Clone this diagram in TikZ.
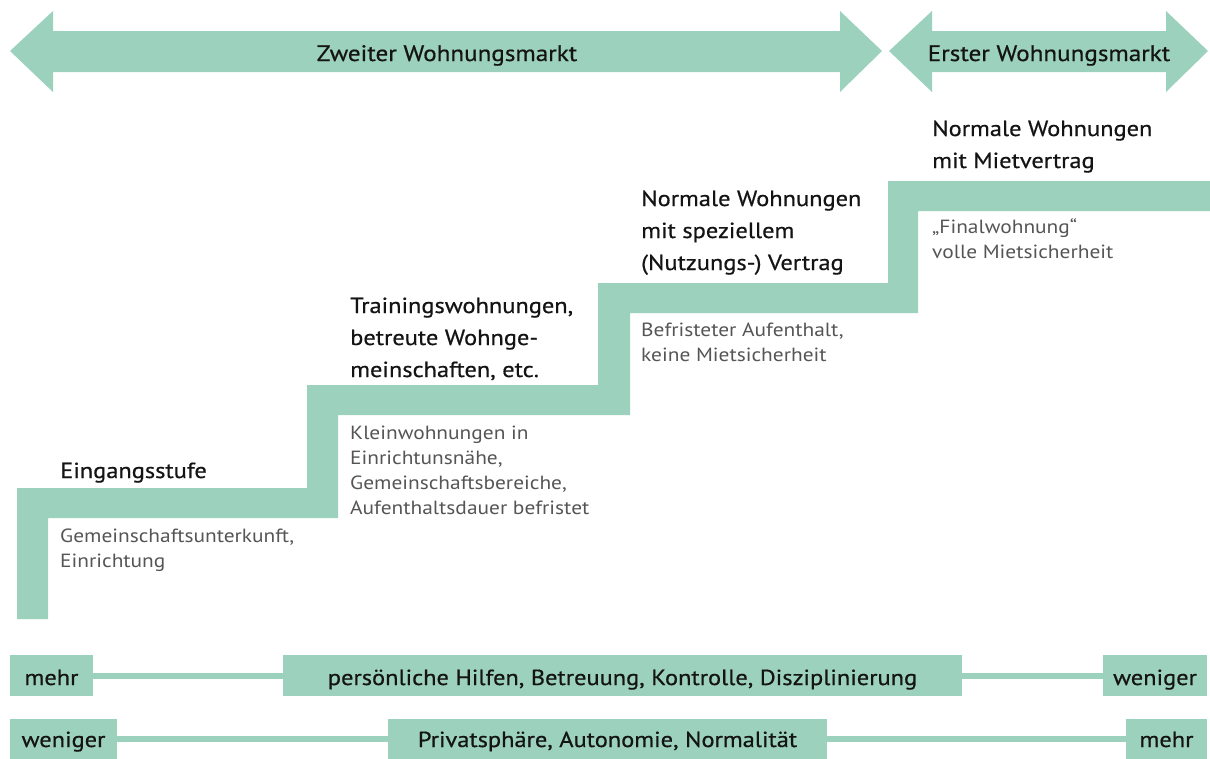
\documentclass[tikz,border=0pt]{standalone}
\usepackage{fontspec}
\setmainfont{PT Sans}
\newfontfamily\widefont[FakeStretch=1.12]{PT Sans}
\newfontfamily\widemedium[FakeStretch=1.12,FakeBold=0.6]{PT Sans}
\definecolor{mint}{RGB}{156,209,190}
\definecolor{subgray}{RGB}{85,85,85}
\definecolor{headblack}{RGB}{20,20,20}
\begin{document}
\begin{tikzpicture}[x=1pt,y=-1pt,
  fillmint/.style={fill=mint,draw=none},
  head/.style={anchor=base west,align=left,font=\widemedium\fontsize{21.8}{32}\selectfont,text=headblack,inner sep=0pt},
  sub/.style={anchor=base west,align=left,font=\widefont\fontsize{19.1}{25}\selectfont,text=subgray,inner sep=0pt},
  arrowlabel/.style={anchor=base,font=\widemedium\fontsize{22.4}{26}\selectfont,text=headblack,inner sep=0pt},
  barbox/.style={fill=mint,draw=none,inner sep=0pt,outer sep=0pt},
  bartext/.style={anchor=base,font=\widemedium\fontsize{21.8}{26}\selectfont,text=headblack,inner sep=0pt},
  barline/.style={draw=mint,line width=6pt}]
\useasboundingbox (0,0) rectangle (1210,758);
% top arrows
\fill[fillmint] (10,51) -- (53,11) -- (53,31) -- (840,31) -- (840,11) -- (882,51) -- (840,92) -- (840,72) -- (53,72) -- (53,92) -- cycle;
\fill[fillmint] (889,51) -- (932,11) -- (932,31) -- (1166,31) -- (1166,11) -- (1208,51) -- (1166,92) -- (1166,72) -- (932,72) -- (932,92) -- cycle;
\node[arrowlabel] (zweiter) at (447,61) {Zweiter Wohnungsmarkt};
\node[arrowlabel] (erster) at (1049,61) {Erster Wohnungsmarkt};
% staircase
\fill[fillmint] (17,619) -- (17,488) -- (307,488) -- (307,385) -- (598,385) -- (598,283) -- (888,283) -- (888,181) -- (1210,181) -- (1210,211) -- (918,211) -- (918,313) -- (630,313) -- (630,415) -- (338,415) -- (338,518) -- (48,518) -- (48,619) -- cycle;
% headings (anchor at baseline of last line)
\node[head] (h1) at (60,478) {Eingangsstufe};
\node[head] (h2) at (350,377) {Trainingswohnungen,\\betreute Wohnge-\\meinschaften, etc.};
\node[head] (h3) at (641,270) {Normale Wohnungen\\mit speziellem\\(Nutzungs-) Vertrag};
\node[head] (h4) at (932,168) {Normale Wohnungen\\mit Mietvertrag};
% subtexts
\node[sub] (s1) at (60,567) {Gemeinschaftsunterkunft,\\Einrichtung};
\node[sub] (s2) at (350,514) {Kleinwohnungen in\\Einrichtunsnähe,\\Gemeinschaftsbereiche,\\Aufenthaltsdauer befristet};
\node[sub] (s3) at (641,361) {Befristeter Aufenthalt,\\keine Mietsicherheit};
\node[sub] (s4) at (932,258) {„Finalwohnung“\\volle Mietsicherheit};
% bar row 1
\node[barbox,minimum width=83pt,minimum height=41pt] (b1a) at (51.5,675.5) {};
\node[barbox,minimum width=679pt,minimum height=41pt] (b1b) at (622.5,675.5) {};
\node[barbox,minimum width=104pt,minimum height=41pt] (b1c) at (1155,675.5) {};
\node[bartext] (t1a) at (51.5,685) {mehr};
\node[bartext] (t1b) at (622.5,685) {persönliche Hilfen, Betreuung, Kontrolle, Disziplinierung};
\node[bartext] (t1c) at (1155,685) {weniger};
\draw[barline] (b1a.east) -- (b1b.west);
\draw[barline] (b1b.east) -- (b1c.west);
% bar row 2
\node[barbox,minimum width=107pt,minimum height=40pt] (b2a) at (63.5,739) {};
\node[barbox,minimum width=439pt,minimum height=40pt] (b2b) at (607.5,739) {};
\node[barbox,minimum width=81pt,minimum height=40pt] (b2c) at (1166.5,739) {};
\node[bartext] (t2a) at (63.5,747) {weniger};
\node[bartext] (t2b) at (607.5,747) {Privatsphäre, Autonomie, Normalität};
\node[bartext] (t2c) at (1166.5,747) {mehr};
\draw[barline] (b2a.east) -- (b2b.west);
\draw[barline] (b2b.east) -- (b2c.west);
\end{tikzpicture}
\end{document}
